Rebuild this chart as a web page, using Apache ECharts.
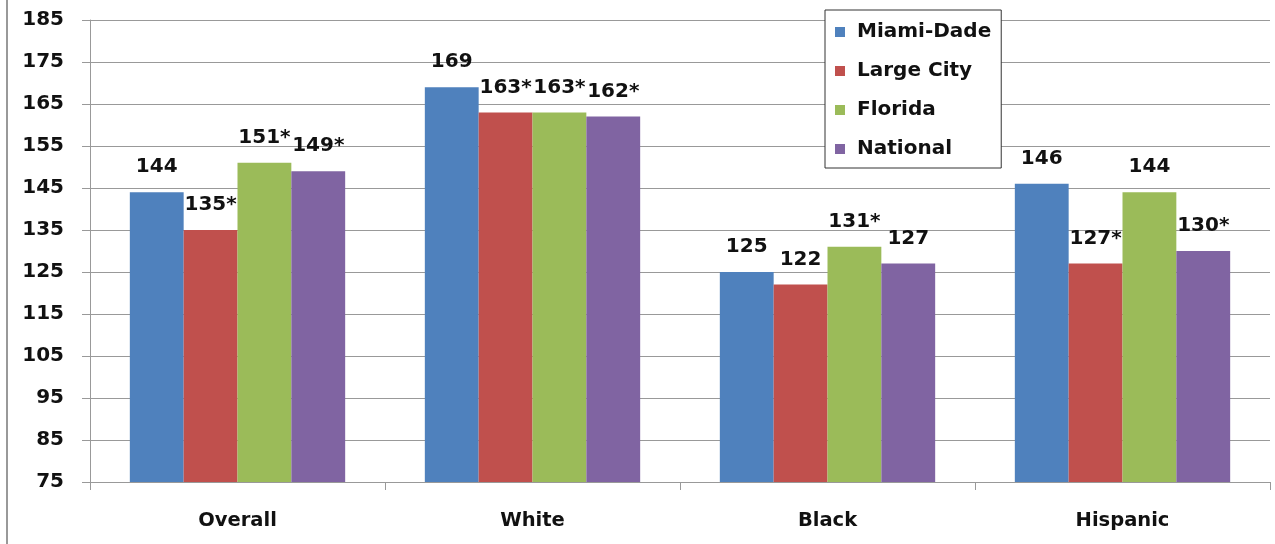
<!DOCTYPE html>
<html>
<head>
<meta charset="utf-8">
<script src="https://cdn.jsdelivr.net/npm/echarts@6/dist/echarts.min.js"></script>
<style>
  html, body { margin: 0; padding: 0; background: #fff; }
  #chart { width: 1275px; height: 544px; }
</style>
</head>
<body>
<div id="chart"></div>
<script>
// Groups along the x axis
const categories = ['Overall', 'White', 'Black', 'Hispanic'];

// Scores per group for each comparison
const miamiDade = [144, 169, 125, 146];
const largeCity = [135, 163, 122, 127];
const florida   = [151, 163, 131, 144];
const national  = [149, 162, 127, 130];

// Significance markers (* = significantly different from Miami-Dade)
const largeCityStar = [true, true, false, true];
const floridaStar   = [true, true, true, false];
const nationalStar  = [true, true, false, true];

const seriesNames = ['Miami-Dade', 'Large City', 'Florida', 'National'];
const colors = ['#4F81BD', '#C0504D', '#9BBB59', '#8064A2'];

const FONT = 'DejaVu Sans';

function makeSeries(name, values, stars, color) {
  return {
    name: name,
    type: 'bar',
    data: values,
    barGap: '0%',
    barCategoryGap: '27%',
    itemStyle: { color: color },
    label: {
      show: true,
      position: 'top',
      distance: 15,
      fontFamily: FONT,
      fontWeight: 'bold',
      fontSize: 20,
      color: '#111',
      formatter: p => String(p.value) + (stars && stars[p.dataIndex] ? '*' : '')
    }
  };
}

const chart = echarts.init(document.getElementById('chart'));
chart.setOption({
  animation: false,
  backgroundColor: '#fff',
  grid: { left: 90, right: 5, top: 20, bottom: 62 },
  legend: {
    orient: 'vertical',
    left: 825,
    top: 10,
    padding: [12, 10, 9, 10],
    itemWidth: 10,
    itemHeight: 10,
    itemGap: 19,
    icon: 'rect',
    borderColor: '#333',
    borderWidth: 1,
    backgroundColor: '#fff',
    data: seriesNames,
    textStyle: {
      fontFamily: FONT,
      fontWeight: 'bold',
      fontSize: 20,
      lineHeight: 20,
      color: '#111',
      padding: [0, 0, 0, 7]
    }
  },
  xAxis: {
    type: 'category',
    data: categories,
    axisLine: { lineStyle: { color: '#999', width: 1 } },
    axisTick: { show: true, length: 8, lineStyle: { color: '#999' } },
    axisLabel: {
      margin: 29,
      fontFamily: FONT,
      fontWeight: 'bold',
      fontSize: 19.5,
      color: '#111'
    }
  },
  yAxis: {
    type: 'value',
    min: 75,
    max: 185,
    interval: 10,
    axisLine: { show: true, lineStyle: { color: '#999', width: 1 } },
    axisTick: { show: true, length: 8, lineStyle: { color: '#999' } },
    splitLine: { lineStyle: { color: '#999', width: 1 } },
    axisLabel: {
      margin: 26,
      fontFamily: FONT,
      fontWeight: 'bold',
      fontSize: 20,
      color: '#111'
    }
  },
  graphic: [{
    type: 'line',
    shape: { x1: 7, y1: 0, x2: 7, y2: 544 },
    style: { stroke: '#999', lineWidth: 2 }
  }],
  series: [
    makeSeries(seriesNames[0], miamiDade, null, colors[0]),
    makeSeries(seriesNames[1], largeCity, largeCityStar, colors[1]),
    makeSeries(seriesNames[2], florida, floridaStar, colors[2]),
    makeSeries(seriesNames[3], national, nationalStar, colors[3])
  ]
});
</script>
</body>
</html>
